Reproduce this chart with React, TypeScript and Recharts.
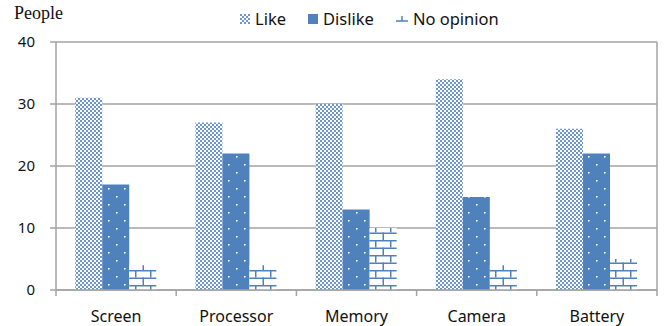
import React from 'react';
import {
  BarChart,
  Bar,
  XAxis,
  YAxis,
  CartesianGrid,
} from 'recharts';

// Data
const categories = ['Screen', 'Processor', 'Memory', 'Camera', 'Battery'];
const likeValues = [31, 27, 30, 34, 26];
const dislikeValues = [17, 22, 13, 15, 22];
const noOpinionValues = [4, 4, 10, 4, 5];
const yTicks = [0, 10, 20, 30, 40];

const seriesNames = ['Like', 'Dislike', 'No opinion'];

const data = categories.map((name, i) => ({
  name,
  like: likeValues[i],
  dislike: dislikeValues[i],
  noOpinion: noOpinionValues[i],
}));

const CHART_W = 664;
const CHART_H = 326;
const LEFT_W = 56;
const RIGHT_W = 7;
const X_AXIS_H = 36;
const BAND = (CHART_W - LEFT_W - RIGHT_W) / categories.length;

const BLUE = '#4f81bd';
const CHECK = '#6b95d0';
const GRID = '#a3a3a3';
const SANS = '"Noto Sans", "Open Sans", sans-serif';

// Pattern fills, shared by bars and legend icons
function PatternDefs() {
  return (
    <svg width={0} height={0} style={{ position: 'absolute' }}>
      <defs>
        <pattern id="pat-like" width={4} height={4} patternUnits="userSpaceOnUse">
          <rect width={4} height={4} fill="#ffffff" />
          <rect x={0} y={0} width={2} height={2} fill={CHECK} />
          <rect x={2} y={2} width={2} height={2} fill={CHECK} />
        </pattern>
        <pattern id="pat-dislike" width={16} height={16} patternUnits="userSpaceOnUse">
          <rect width={16} height={16} fill={BLUE} />
          <rect x={4} y={4} width={1.6} height={1.6} fill="#ffffff" />
          <rect x={12} y={12} width={1.6} height={1.6} fill="#ffffff" />
        </pattern>
        <pattern id="pat-none" width={15} height={15} patternUnits="userSpaceOnUse">
          <rect width={15} height={15} fill="#ffffff" />
          <line x1={0} y1={0.75} x2={15} y2={0.75} stroke={BLUE} strokeWidth={1.5} />
          <line x1={0} y1={8.25} x2={15} y2={8.25} stroke={BLUE} strokeWidth={1.5} />
          <line x1={0.75} y1={0} x2={0.75} y2={7.5} stroke={BLUE} strokeWidth={1.5} />
          <line x1={8.25} y1={7.5} x2={8.25} y2={15} stroke={BLUE} strokeWidth={1.5} />
        </pattern>
      </defs>
    </svg>
  );
}

// Category label plus the boundary tick marks between categories
function XTick(props: any) {
  const { x, y, payload, index } = props;
  return (
    <g>
      {index === 0 && (
        <line x1={x - BAND / 2} y1={y} x2={x - BAND / 2} y2={y + 6} stroke={GRID} strokeWidth={1.5} />
      )}
      <line x1={x + BAND / 2} y1={y} x2={x + BAND / 2} y2={y + 6} stroke={GRID} strokeWidth={1.5} />
      <text x={x} y={y + 32} textAnchor="middle" fill="#111" fontSize={16} fontFamily={SANS}>
        {payload.value}
      </text>
    </g>
  );
}

function LegendIcon({ idx }: { idx: number }) {
  if (idx === 2) {
    return (
      <svg width={12} height={10}>
        <line x1={0} y1={7} x2={12} y2={7} stroke={BLUE} strokeWidth={1.5} />
        <line x1={6} y1={2} x2={6} y2={7} stroke={BLUE} strokeWidth={1.5} />
      </svg>
    );
  }
  return (
    <svg width={10} height={10}>
      <rect width={10} height={10} fill={idx === 0 ? 'url(#pat-like)' : BLUE} />
    </svg>
  );
}

export default function App() {
  return (
    <div style={{ position: 'absolute', left: 0, top: 0, width: CHART_W, height: CHART_H, background: '#fff' }}>
      <PatternDefs />
      <div
        style={{
          position: 'absolute',
          left: 14,
          top: 3,
          fontFamily: '"Liberation Serif", "Times New Roman", serif',
          fontSize: 18,
          color: '#111',
        }}
      >
        People
      </div>
      <div
        style={{
          position: 'absolute',
          left: 240,
          top: 7,
          display: 'flex',
          alignItems: 'center',
          fontFamily: SANS,
          fontSize: 16.5,
          color: '#111',
        }}
      >
        {seriesNames.map((s, i) => (
          <div key={s} style={{ display: 'flex', alignItems: 'center', marginRight: 22 }}>
            <LegendIcon idx={i} />
            <span style={{ marginLeft: 5 }}>{s}</span>
          </div>
        ))}
      </div>
      <BarChart
        width={CHART_W}
        height={CHART_H}
        data={data}
        margin={{ top: 42, right: 0, left: 0, bottom: 0 }}
        barCategoryGap="16%"
        barGap={0}
      >
        <CartesianGrid vertical={false} stroke={GRID} strokeWidth={1.5} />
        <XAxis
          dataKey="name"
          height={X_AXIS_H}
          tickLine={false}
          tickSize={0}
          tickMargin={0}
          axisLine={{ stroke: GRID, strokeWidth: 1.5 }}
          tick={<XTick />}
          interval={0}
        />
        <YAxis
          width={LEFT_W}
          domain={[0, 40]}
          ticks={yTicks}
          tickSize={6}
          tickMargin={15}
          tickLine={{ stroke: GRID, strokeWidth: 1.5 }}
          axisLine={{ stroke: GRID, strokeWidth: 1.5 }}
          tick={{ fill: '#111', fontSize: 15, fontFamily: SANS }}
        />
        <YAxis
          yAxisId="right"
          orientation="right"
          width={RIGHT_W}
          domain={[0, 40]}
          tick={false}
          tickLine={false}
          axisLine={{ stroke: GRID, strokeWidth: 1.5 }}
        />
        <Bar dataKey="like" name="Like" fill="url(#pat-like)" isAnimationActive={false} />
        <Bar dataKey="dislike" name="Dislike" fill="url(#pat-dislike)" isAnimationActive={false} />
        <Bar dataKey="noOpinion" name="No opinion" fill="url(#pat-none)" isAnimationActive={false} />
      </BarChart>
    </div>
  );
}
